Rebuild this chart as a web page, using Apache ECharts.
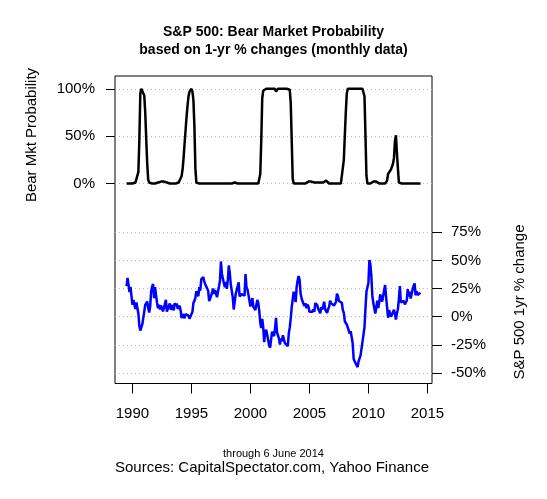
<!DOCTYPE html>
<html>
<head>
<meta charset="utf-8">
<script src="https://cdn.jsdelivr.net/npm/echarts@6/dist/echarts.min.js"></script>
<style>
html,body{margin:0;padding:0;background:#fff;}
#c{width:547px;height:499px;}
</style>
</head>
<body>
<div id="c"></div>
<script>
// Monthly observations, July 1989 .. June 2014 (one row per calendar year)
const firstYear = 1989, firstMonth = 7;

// S&P 500 1-yr % change
const sp500Change = [
  27.2, 34.4, 28.4, 22.0, 26.4, 27.3,
  10.6, 14.9, 15.3, 6.8, 12.7, 12.6, 2.9, -8.2, -12.3, -10.7, -6.9, -6.6,
  4.5, 10.6, 10.4, 13.5, 7.9, 3.7, 8.9, 22.6, 26.7, 29.1, 16.4, 26.3,
  18.9, 12.4, 7.6, 10.6, 6.5, 10.0, 9.4, 4.7, 7.7, 6.7, 15.0, 4.5,
  7.3, 7.4, 11.9, 6.1, 8.4, 10.4, 5.6, 12.0, 9.8, 11.7, 7.1, 7.1,
  9.8, 5.4, -1.3, 2.4, 1.4, -1.4, 2.3, 2.6, 0.8, 1.0, -1.8, -1.5,
  -2.3, 4.3, 12.3, 14.1, 16.8, 22.6, 22.7, 18.2, 26.3, 23.1, 33.4, 34.1,
  35.2, 31.4, 28.9, 27.1, 25.4, 23.1, 13.9, 16.0, 17.6, 21.3, 25.1, 20.3,
  23.6, 23.5, 17.3, 22.5, 26.8, 32.0, 49.1, 38.0, 37.8, 29.7, 26.2, 31.0,
  24.7, 32.7, 45.5, 38.7, 28.6, 28.1, 17.4, 6.4, 7.4, 20.1, 21.8, 26.7,
  30.5, 18.0, 16.8, 20.1, 19.3, 21.1, 18.6, 37.9, 26.1, 24.1, 19.4, 19.5,
  9.0, 10.3, 16.5, 8.8, 9.1, 6.0, 7.7, 14.9, 12.0, 4.9, -5.3, -10.1,
  -2.0, -9.3, -22.6, -14.0, -11.6, -15.8, -15.3, -25.3, -27.5, -25.9, -13.3, -13.0,
  -17.3, -10.7, -1.1, -13.8, -15.0, -19.2, -24.7, -19.2, -21.7, -16.4, -17.8, -23.4,
  -24.3, -24.0, -26.1, -14.9, -9.7, -1.5, 8.6, 10.0, 22.2, 18.6, 13.0, 26.4,
  32.2, 36.1, 32.8, 20.8, 16.3, 17.1, 11.3, 9.5, 11.9, 7.6, 10.9, 9.0,
  4.4, 5.1, 4.8, 4.5, 6.3, 4.4, 12.0, 10.5, 10.2, 6.8, 6.4, 3.0,
  8.4, 6.4, 9.7, 13.3, 6.6, 6.6, 3.4, 6.8, 8.7, 14.2, 12.1, 13.6,
  12.4, 9.9, 9.7, 13.1, 20.5, 18.4, 14.0, 13.1, 14.3, 12.4, 5.7, 3.5,
  -4.2, -5.4, -6.9, -6.5, -8.5, -14.9, -12.9, -13.0, -23.6, -37.5, -39.5, -38.5,
  -40.1, -44.8, -39.7, -37.0, -34.4, -28.2, -22.1, -20.4, -9.4, 7.0, 22.2, 23.5,
  30.0, 50.3, 46.6, 36.0, 18.5, 12.1, 11.6, 2.8, 8.0, 14.2, 7.8, 12.8,
  19.8, 20.2, 13.4, 14.9, 23.5, 28.1, 17.3, 16.2, -0.9, 5.9, 5.6, 0.0,
  2.0, 2.9, 6.2, 2.5, -2.6, 3.1, 6.7, 15.4, 27.3, 12.7, 13.6, 13.4,
  14.1, 10.9, 11.4, 14.3, 24.5, 17.9, 22.2, 16.1, 16.7, 24.4, 27.5, 29.6,
  19.0, 22.8, 19.3, 17.9, 18.0, 21.4
];

// Bear market probability, %
const bearProb = [
  0, 0, 0, 0, 0, 0,
  0, 0, 0, 1, 0, 2, 12, 46, 95, 100, 100, 100,
  93, 75, 47, 21, 4, 1, 0, 0, 0, 0, 1, 0,
  0, 0, 1, 0, 1, 2, 1, 1, 2, 1, 0, 1,
  1, 1, 0, 1, 1, 0, 1, 0, 0, 0, 1, 1,
  1, 3, 8, 15, 27, 42, 56, 70, 82, 92, 97, 99,
  100, 97, 88, 61, 16, 1, 0, 0, 0, 0, 0, 0,
  0, 0, 0, 0, 0, 0, 1, 0, 0, 0, 0, 0,
  0, 0, 0, 0, 0, 0, 0, 0, 0, 0, 0, 0,
  0, 0, 0, 0, 0, 0, 0, 1, 1, 0, 0, 0,
  0, 0, 0, 0, 0, 0, 0, 0, 0, 0, 0, 0,
  0, 0, 0, 0, 0, 0, 0, 0, 0, 1, 10, 45,
  90, 98, 100, 100, 100, 99, 100, 100, 100, 100, 100, 100,
  100, 100, 97, 99, 100, 100, 100, 100, 100, 100, 100, 100,
  100, 100, 100, 100, 99, 85, 45, 5, 0, 0, 0, 0,
  0, 0, 0, 0, 0, 0, 0, 0, 0, 1, 1, 2,
  3, 2, 2, 2, 1, 1, 0, 1, 1, 3, 2, 1,
  1, 2, 1, 0, 2, 3, 2, 1, 0, 0, 0, 0,
  0, 0, 0, 0, 0, 0, 0, 0, 0, 0, 1, 25,
  51, 75, 95, 100, 100, 100, 100, 100, 100, 100, 100, 100,
  100, 100, 100, 100, 100, 100, 100, 100, 92, 51, 8, 0,
  0, 0, 0, 0, 1, 2, 1, 3, 2, 1, 0, 0,
  0, 0, 0, 0, 0, 0, 0, 3, 10, 9, 12, 15,
  13, 21, 27, 45, 51, 32, 16, 1, 0, 0, 0, 0,
  0, 0, 0, 0, 0, 0, 0, 0, 0, 0, 0, 0,
  0, 0, 0, 0, 0, 0
];

const yearTicks = [1990, 1995, 2000, 2005, 2010, 2015];

// month stamps (decimal years)
const monthStamp = i => firstYear + (firstMonth - 1 + i) / 12;
const probData = bearProb.map((v, i) => [monthStamp(i), v]);
const changeData = sp500Change.map((v, i) => [monthStamp(i), v]);

const FONT = '"Liberation Sans", Arial, Helvetica, sans-serif';
const L = 115, R = 115;
const xMin = 1988.52, xMax = 2015.39;

const hiddenX = (gi) => ({
  type: 'value', gridIndex: gi, min: xMin, max: xMax,
  show: false
});

const chart = echarts.init(document.getElementById('c'), null, {renderer: 'canvas'});
chart.setOption({
  animation: false,
  backgroundColor: '#ffffff',
  grid: [
    {left: L, right: R, top: 76, bottom: 115.5, show: true, borderColor: '#000', borderWidth: 1, backgroundColor: 'transparent'},
    {left: L, right: R, top: 88.8, bottom: 499 - 183.5},
    {left: L, right: R, top: 232.3, bottom: 499 - 373}
  ],
  xAxis: [
    {
      type: 'value', gridIndex: 0, min: xMin, max: xMax,
      axisLine: {show: false},
      splitLine: {show: false},
      axisTick: {show: true, length: 10, customValues: yearTicks, lineStyle: {color: '#000', width: 1}},
      axisLabel: {
        customValues: yearTicks, margin: 23, fontSize: 15, color: '#000', fontFamily: FONT,
        formatter: v => String(v)
      }
    },
    hiddenX(1),
    hiddenX(2)
  ],
  yAxis: [
    {type: 'value', gridIndex: 0, min: 0, max: 1, show: false},
    {
      type: 'value', gridIndex: 1, min: 0, max: 100, interval: 50, position: 'left',
      axisLine: {show: false},
      axisTick: {show: true, length: 9, lineStyle: {color: '#000', width: 1}},
      axisLabel: {margin: 20, fontSize: 15, color: '#000', fontFamily: FONT, formatter: '{value}%'},
      splitLine: {show: true, lineStyle: {type: [1, 3], color: '#b4b4b4', width: 1}}
    },
    {
      type: 'value', gridIndex: 2, min: -50, max: 75, interval: 25, position: 'right',
      axisLine: {show: false},
      axisTick: {show: true, length: 10, lineStyle: {color: '#000', width: 1}},
      axisLabel: {margin: 19, fontSize: 15, color: '#000', fontFamily: FONT, formatter: '{value}%'},
      splitLine: {show: true, lineStyle: {type: [1, 3], color: '#b4b4b4', width: 1}}
    }
  ],
  series: [
    {
      type: 'line', xAxisIndex: 1, yAxisIndex: 1, data: probData,
      showSymbol: false, clip: false, lineStyle: {color: '#000', width: 2.5}, z: 3
    },
    {
      type: 'line', xAxisIndex: 2, yAxisIndex: 2, data: changeData,
      showSymbol: false, clip: false, lineStyle: {color: '#0000ff', width: 2.5}, z: 3
    }
  ],
  graphic: [
    {type: 'text', x: 273.5, y: 32, style: {text: 'S&P 500: Bear Market Probability', font: 'bold 14px ' + FONT, fill: '#000', align: 'center', verticalAlign: 'middle', textAlign: 'center', textVerticalAlign: 'middle'}},
    {type: 'text', x: 273.5, y: 50, style: {text: 'based on 1-yr % changes (monthly data)', font: 'bold 14px ' + FONT, fill: '#000', align: 'center', verticalAlign: 'middle', textAlign: 'center', textVerticalAlign: 'middle'}},
    {type: 'text', x: 32, y: 135, rotation: Math.PI / 2, style: {text: 'Bear Mkt Probability', font: '15px ' + FONT, fill: '#000', align: 'center', verticalAlign: 'middle', textAlign: 'center', textVerticalAlign: 'middle'}},
    {type: 'text', x: 520, y: 302, rotation: Math.PI / 2, style: {text: 'S&P 500 1yr % change', font: '15px ' + FONT, fill: '#000', align: 'center', verticalAlign: 'middle', textAlign: 'center', textVerticalAlign: 'middle'}},
    {type: 'text', x: 273.5, y: 454, style: {text: 'through 6 June 2014', font: '11px ' + FONT, fill: '#000', align: 'center', verticalAlign: 'middle', textAlign: 'center', textVerticalAlign: 'middle'}},
    {type: 'text', x: 272, y: 467.5, style: {text: 'Sources: CapitalSpectator.com, Yahoo Finance', font: '15px ' + FONT, fill: '#000', align: 'center', verticalAlign: 'middle', textAlign: 'center', textVerticalAlign: 'middle'}}
  ]
});
</script>
</body>
</html>
